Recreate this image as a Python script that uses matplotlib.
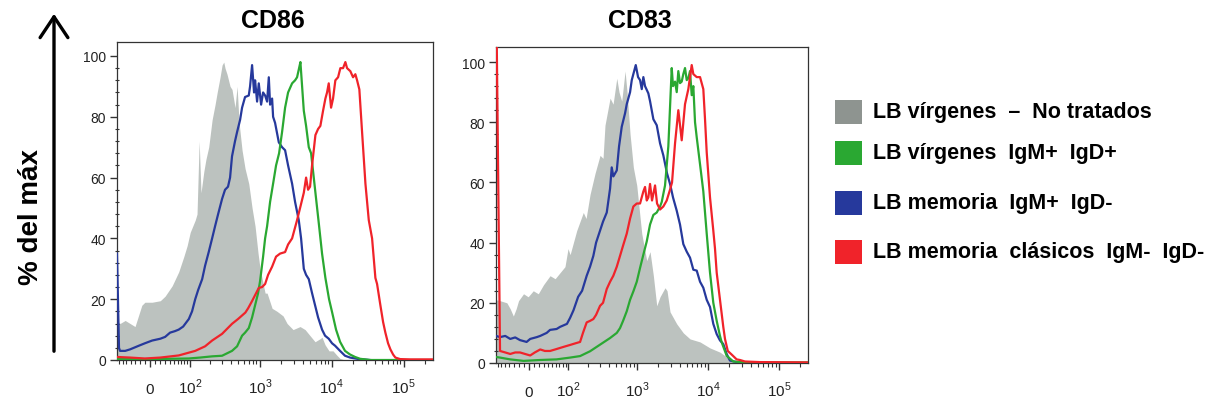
import numpy as np
import matplotlib
matplotlib.use("Agg")
import matplotlib.pyplot as plt
from matplotlib.patches import Rectangle, FancyArrowPatch

plt.rcParams['font.family'] = ['Liberation Sans', 'DejaVu Sans']
plt.rcParams['mathtext.fontset'] = 'custom'
plt.rcParams['mathtext.rm'] = 'Liberation Sans'

# ---------------- data: fluorescence intensity vs % of max ----------------
panel_titles = ["CD86", "CD83"]
series_labels = ["LB vírgenes  \u2013  No tratados",
                 "LB vírgenes  IgM+  IgD+",
                 "LB memoria  IgM+  IgD-",
                 "LB memoria  clásicos  IgM-  IgD-"]
tick_values = [0, 1e2, 1e3, 1e4, 1e5]
tick_labels = [r"$0$", r"$10^{2}$", r"$10^{3}$", r"$10^{4}$", r"$10^{5}$"]

# CD86
cd86_gray_x = [-76, -67, -53, -41, -30, -16, -10, 4, 20, 30, 46, 63, 78, 89, 100, 120, 128, 138, 147,
               162, 174, 191, 214, 236, 253, 278, 297, 314, 327, 349, 385, 410, 438, 452, 483, 515,
               567, 624, 703, 782, 861, 948, 1011, 1187, 1265, 1485, 1740, 2110, 2400, 2905, 3634,
               4267, 5000, 5870, 6900, 7340, 8080, 9180, 10430, 11850, 13050, 15300]
cd86_gray_y = [13, 12, 13, 12, 11, 18, 19, 19, 19.5, 21, 24.4, 29, 34, 37.6, 42, 46, 48, 72, 55,
               62, 66, 70, 79, 84, 88, 93, 97, 98, 96, 94, 90, 89, 85, 83, 90, 78,
               69, 63, 58, 50, 44, 35, 30, 22, 22, 17, 16, 14.5, 12, 10, 11,
               10, 8, 6, 7, 7.5, 5, 3, 3, 1.5, 0.5, 0]

cd86_blue_x = [-76, -70, -67, -53, -41, -22, -10, 4, 20, 30, 41, 53, 63, 76, 95, 107, 120, 133, 153,
               169, 191, 214, 236, 261, 297, 327, 360, 385, 410, 452, 483, 532, 567, 624, 703, 733,
               782, 833, 861, 918, 969, 1044, 1113, 1187, 1265, 1336, 1392, 1485, 1533, 1633, 1840,
               2043, 2250, 2476, 2815, 3097, 3485, 3753, 4093, 4405, 4800, 5330, 5870, 6467, 7340,
               8080, 9090, 10100, 11120, 13050, 15300, 17980, 23740, 34100]
cd86_blue_y = [35, 4, 3, 3, 3.5, 4.7, 5.5, 6.4, 7, 7.6, 9, 9.5, 10, 11, 13.5, 16, 20, 23, 26.6,
               31, 35.5, 40, 44, 48, 53, 56, 57, 60, 67, 72, 75, 79, 83, 86.5, 87, 90,
               97, 88, 92, 85, 91, 84, 88, 87, 85, 93, 84, 86, 80, 78, 71.6,
               70, 69, 64, 58, 52, 46, 40, 30, 28, 26.6, 22, 18, 14, 10,
               8, 7, 5.5, 4.7, 3, 1.4, 0.8, 0.3, 0]

cd86_green_x = [-76, 0, 95, 142, 214, 297, 410, 483, 567, 624, 703, 782, 861, 948, 1011, 1113, 1187,
                1265, 1392, 1533, 1685, 1857, 2043, 2250, 2476, 2815, 3097, 3300, 3520, 3673, 3877,
                4093, 4405, 4800, 5168, 5630, 6066, 6610, 7340, 8166, 9180, 10100, 11480, 13050,
                15300, 17980, 21100, 24750, 34100, 250000]
cd86_green_y = [0.3, 0.3, 0.5, 0.8, 1.2, 1.4, 3, 4.5, 8, 9, 10.5, 14, 18, 22, 26, 34, 40,
                44, 52, 58, 64, 68, 75, 83, 88, 91, 92, 93, 96, 98, 90,
                82, 77, 70, 68, 60, 53, 45, 35, 27, 20, 15.8, 10, 6,
                3, 1.8, 1, 0.4, 0, 0]

cd86_red_x = [-76, -41, -10, 20, 63, 120, 169, 214, 297, 410, 499, 630, 688, 782, 969, 1078, 1187,
              1306, 1485, 1685, 1917, 2250, 2476, 2815, 3300, 3634, 4093, 4405, 4695, 5000, 5330,
              5936, 6467, 6953, 7580, 8166, 8610, 9090, 9790, 10430, 11230, 12250, 13180, 14370,
              15470, 16330, 18140, 19780, 21290, 22500, 24190, 26390, 29380, 32700, 36350, 40400,
              42650, 47400, 51680, 55600, 60600, 65300, 71200, 76600, 89000, 122600, 250000]
cd86_red_y = [1, 0.8, 0.5, 0.8, 1.5, 3, 4.5, 6.4, 8.6, 11.9, 13.5, 15.6, 17, 19.4, 23.7, 24, 25,
              28, 30.7, 34, 35, 35.5, 38, 40, 46, 50, 55, 60, 56, 57, 64,
              74, 76, 77, 82, 86, 88, 91, 83, 86, 92, 93, 96, 96,
              98, 96, 95, 93, 94, 92, 89, 75, 58, 46, 40, 27,
              25, 18, 12.5, 9, 5.5, 3.5, 1.8, 0.8, 0.3, 0.2, 0.2]

# CD83
cd83_gray_x = [-76, -64, -46, -38, -31, -25, -20, -10, -1, 9, 19, 30, 45, 58, 72, 88, 99, 107, 136,
               171, 188, 215, 254, 300, 331, 353, 417, 460, 519, 559, 610, 680, 725, 800, 890, 994,
               1169, 1374, 1529, 1703, 1900, 2114, 2485, 2652, 2922, 3630, 4494, 5584, 7725, 10670,
               14740, 18300, 21000, 28150]
cd83_gray_y = [21, 20.7, 20, 18, 15.6, 18, 20.7, 23, 22, 24, 23, 26, 29, 28, 30, 32, 38, 36, 44,
               50, 48, 56, 63, 69, 68, 79, 88, 86, 94.6, 90, 87, 97, 90, 76, 65, 59,
               43, 34, 37, 29, 19, 22, 25, 24, 17, 13, 10, 8, 7, 5,
               3.6, 2, 0.5, 0]

cd83_blue_x = [-76, -64, -50, -38, -27, -17, -4, 3, 16, 23, 37, 45, 62, 72, 95, 107, 121, 143, 164,
               192, 215, 240, 263, 300, 331, 374, 417, 440, 464, 519, 559, 610, 680, 718, 800, 845,
               962, 1037, 1106, 1169, 1231, 1300, 1447, 1529, 1703, 1900, 2114, 2352, 2652, 2922,
               3220, 3630, 4038, 4494, 5017, 5584, 6215, 6937, 7725, 8590, 9588, 10670, 11870, 13250,
               14740, 16400, 18300, 20370, 25300, 53800]
cd83_blue_y = [9, 8.6, 9, 8, 8.5, 7.6, 7, 8, 8.6, 9, 10, 11, 11.3, 12, 13, 15, 17.5, 22, 24,
               29, 32, 35.6, 40, 44, 47, 50, 58, 65, 62, 64, 72, 78.5, 83, 86, 90, 94,
               99, 95, 94, 91, 95, 92, 89.6, 87, 81, 79, 73, 69, 63, 59.5,
               55, 50.6, 46, 39.5, 37, 35, 31, 30.7, 27, 25, 21, 18.6, 13, 9.6,
               7.5, 6.3, 3, 0.8, 0.3, 0.1]

cd83_green_x = [-76, -64, -38, -10, 23, 62, 107, 153, 215, 300, 417, 519, 577, 637, 718, 800, 890,
                994, 1106, 1231, 1374, 1529, 1703, 1900, 2114, 2233, 2485, 2766, 2922, 3087, 3220,
                3437, 3630, 3823, 4038, 4266, 4494, 4748, 5017, 5285, 5584, 5899, 6215, 6567, 6937,
                7725, 8590, 9588, 10670, 11870, 13250, 14740, 15570, 18300, 22670, 33090, 250000]
cd83_green_y = [2, 1.8, 1.2, 0.7, 1, 1.2, 1.8, 2.3, 3.9, 6.1, 8.3, 10, 11.6, 14, 17.2, 21, 23.8,
                27, 31.6, 36, 40.4, 46, 49.2, 50, 52, 53.5, 59, 72, 85, 98, 92,
                93.5, 90, 97, 93, 93.5, 96, 98, 94, 94.6, 97, 89, 92, 80, 75,
                66, 57, 43, 30, 20, 14, 9, 6.9, 2.4, 0.5, 0.2, 0.2]

cd83_red_x = [-75, -64, -50, -38, -27, -17, -7, 3, 12, 23, 33, 45, 58, 72, 88, 107, 128, 153, 169,
              192, 215, 240, 263, 300, 331, 374, 417, 464, 519, 577, 637, 718, 800, 890, 994, 1106,
              1231, 1300, 1374, 1447, 1529, 1630, 1798, 1919, 2114, 2352, 2625, 2922, 3118, 3437,
              3823, 4266, 4748, 5285, 5899, 6215, 6937, 7725, 8590, 9076, 9588, 10670, 11870, 12540,
              13250, 14740, 16400, 17330, 18980, 21520, 25300, 28150, 33090, 53800, 250000]
cd83_red_y = [120, 4, 3.5, 3, 3.5, 3.5, 3, 2.5, 3.5, 4.5, 4, 4, 4.5, 5, 5.5, 6, 6.5, 7, 10,
              13.5, 14, 14.6, 16, 19, 20, 24.6, 27, 29, 32, 35.6, 39, 43, 48, 52, 53, 53,
              57, 58.5, 54, 55, 59.5, 54, 59, 53, 51, 52, 54, 57.6, 60, 73,
              84, 74, 86, 91, 99, 96, 95, 95, 91, 81, 70, 55, 44, 38,
              30, 21, 12, 8, 4, 2.8, 1.2, 1, 0.5, 0.3, 0.2]

panels = [
    dict(gray=(cd86_gray_x, cd86_gray_y), blue=(cd86_blue_x, cd86_blue_y),
         green=(cd86_green_x, cd86_green_y), red=(cd86_red_x, cd86_red_y)),
    dict(gray=(cd83_gray_x, cd83_gray_y), blue=(cd83_blue_x, cd83_blue_y),
         green=(cd83_green_x, cd83_green_y), red=(cd83_red_x, cd83_red_y)),
]

# ---------------- styling ----------------
C_GRAY_FILL = "#bcc2bf"
C_GRAY_KEY = "#8e9490"
C_GREEN = "#2aa832"
C_BLUE = "#26399c"
C_RED = "#f0232a"
C_AXIS = "#333333"

W, H = 1215, 406
fig = plt.figure(figsize=(W / 100, H / 100), dpi=100)


def fx(px):
    return px / W


def fy(py):
    return 1 - py / H


def fwd(x):
    return np.arcsinh(np.asarray(x, float) / 60.0) / np.log(10)


def inv(u):
    return 60.0 * np.sinh(np.asarray(u, float) * np.log(10))


minor_x = ([-s for s in (10, 20, 30, 40, 50, 60, 70)] +
           [10, 20, 30, 40, 50, 60, 70, 80, 90] +
           [m * 10 ** e for e in (2, 3, 4) for m in range(2, 10)] + [2e5])

boxes = [(117, 43, 433, 361, 104.6), (496, 48, 808, 364, 105.0)]
title_pos = [(273, 21), (640, 21)]

for i, (box, d) in enumerate(zip(boxes, panels)):
    l, t, r, b, ytop = box
    ax = fig.add_axes([fx(l), fy(b), fx(r) - fx(l), fy(t) - fy(b)])
    ax.set_xscale('function', functions=(fwd, inv))
    ax.set_xlim(-76, 255000)
    ax.set_ylim(0, ytop)

    gx, gy = d['gray']
    ax.fill_between(gx, gy, 0, color=C_GRAY_FILL, lw=0, zorder=1)
    for key, col in (('blue', C_BLUE), ('green', C_GREEN), ('red', C_RED)):
        xs, ys = d[key]
        ax.plot(xs, ys, color=col, lw=1.6, zorder=3, solid_joinstyle='round')

    for s in ax.spines.values():
        s.set_color(C_AXIS)
        s.set_linewidth(0.9)

    ax.set_xticks(tick_values)
    ax.set_xticklabels(tick_labels)
    ax.set_xticks(minor_x, minor=True)
    ax.set_yticks([0, 20, 40, 60, 80, 100])
    ax.set_yticks(np.arange(4, 101, 4), minor=True)
    ax.tick_params(axis='both', which='major', direction='out', length=5, width=1,
                   color=C_AXIS, labelsize=10, labelcolor='#222222', pad=3)
    ax.tick_params(axis='x', which='major', pad=19, labelsize=11)
    ax.tick_params(axis='x', which='minor', direction='out', length=3, width=0.8, color=C_AXIS)
    ax.tick_params(axis='y', which='minor', direction='inout', length=3, width=0.8, color=C_AXIS)
    for lbl in ax.get_xticklabels():
        lbl.set_verticalalignment('baseline')

    tx, ty = title_pos[i]
    fig.text(fx(tx), fy(ty), panel_titles[i], ha='center', va='center',
             fontsize=18, fontweight='bold')

# y label with an upward arrow
fig.text(fx(31), fy(217), "% del máx", rotation=90, ha='center', va='center',
         fontsize=20, fontweight='bold')
fig.patches.append(FancyArrowPatch(
    (fx(54), fy(355)), (fx(54), fy(12)), transform=fig.transFigure,
    arrowstyle='->,head_length=6,head_width=4', lw=2.4, color='black',
    mutation_scale=2.5))

# legend
key_colors = [C_GRAY_KEY, C_GREEN, C_BLUE, C_RED]
key_rows = [113, 154, 204, 253]
for lab, col, ry in zip(series_labels, key_colors, key_rows):
    fig.patches.append(Rectangle((fx(835), fy(ry + 12)), fx(27), (24 / H),
                                 transform=fig.transFigure, color=col, lw=0))
    fig.text(fx(873), fy(ry), lab, ha='left', va='center', fontsize=15.5,
             fontweight='bold')

fig.savefig("out.png", dpi=100)
